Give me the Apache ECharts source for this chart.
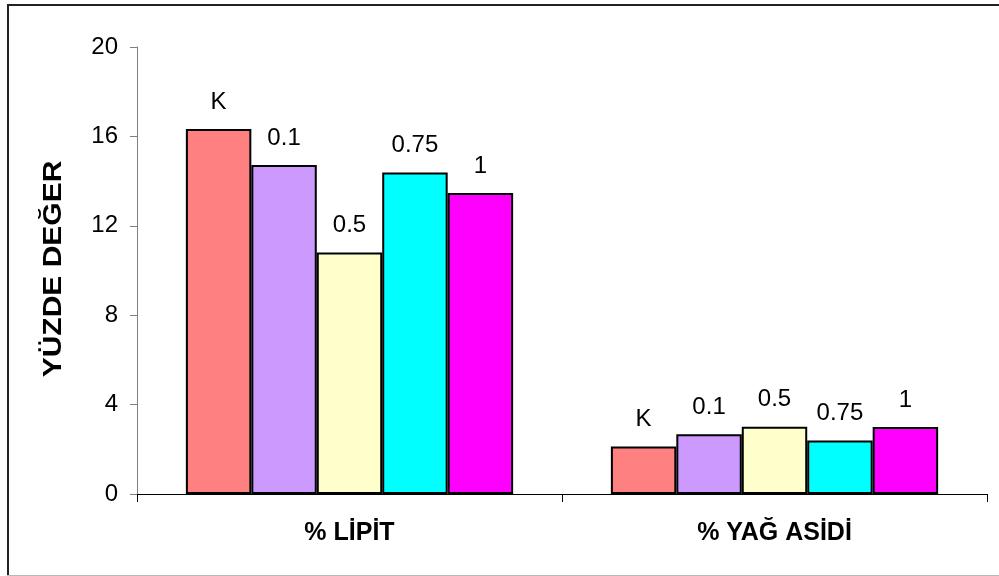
<!DOCTYPE html>
<html>
<head>
<meta charset="utf-8">
<script src="https://cdn.jsdelivr.net/npm/echarts@6/dist/echarts.min.js"></script>
<style>
  html, body { margin: 0; padding: 0; background: #fff; }
  #chart { width: 999px; height: 576px; }
</style>
</head>
<body>
<div id="chart"></div>
<script>
// Category groups on the x axis
const categories = ['% LİPİT', '% YAĞ ASİDİ'];

// Treatment series (series name is drawn as the bar label)
const seriesNames = ['K', '0.1', '0.5', '0.75', '1'];
const valuesK    = [16.33, 2.12];
const values01   = [14.72, 2.67];
const values05   = [10.8, 3.01];
const values075  = [14.39, 2.39];
const values1    = [13.47, 3.0];

const seriesColors = ['#FF8080', '#CC99FF', '#FFFFCC', '#00FFFF', '#FF00FF'];
const allValues = [valuesK, values01, values05, values075, values1];

const yAxisTitle = 'YÜZDE DEĞER';

const chart = echarts.init(document.getElementById('chart'), null, { renderer: 'canvas' });

const font = 'Liberation Sans, Arial, sans-serif';

const series = seriesNames.map((name, i) => ({
  name: name,
  type: 'bar',
  data: allValues[i],
  barGap: 0,
  barCategoryGap: '23%',
  itemStyle: { color: seriesColors[i], borderColor: '#000', borderWidth: 2 },
  label: {
    show: true,
    position: 'top',
    distance: 15,
    formatter: name,
    color: '#000',
    fontFamily: font,
    fontSize: 24
  },
  emphasis: { disabled: true }
}));

chart.setOption({
  animation: false,
  backgroundColor: '#fff',
  grid: { left: 137, right: 12, top: 47, bottom: 82, containLabel: false },
  xAxis: {
    type: 'category',
    data: categories,
    axisLine: { lineStyle: { color: '#000', width: 1 } },
    axisTick: { show: true, length: 8, alignWithLabel: false, lineStyle: { color: '#000' } },
    axisLabel: {
      color: '#000',
      fontFamily: font,
      fontSize: 25,
      fontWeight: 'bold',
      margin: 27
    },
    splitLine: { show: false }
  },
  yAxis: {
    type: 'value',
    min: 0,
    max: 20,
    interval: 4,
    axisLine: { show: true, lineStyle: { color: '#808080', width: 1 } },
    axisTick: { show: true, length: 7, lineStyle: { color: '#808080' } },
    axisLabel: { color: '#000', fontFamily: font, fontSize: 24, margin: 19 },
    splitLine: { show: false }
  },
  graphic: [
    // chart frame: top and left edges dark, bottom edge light
    { type: 'line', shape: { x1: 7, y1: 5, x2: 999, y2: 5 }, style: { stroke: '#222', lineWidth: 2 }, silent: true },
    { type: 'line', shape: { x1: 8, y1: 4, x2: 8, y2: 576 }, style: { stroke: '#222', lineWidth: 2 }, silent: true },
    { type: 'line', shape: { x1: 7, y1: 575.5, x2: 999, y2: 575.5 }, style: { stroke: '#b8b8b8', lineWidth: 1 }, silent: true },
    // y axis title, rotated
    {
      type: 'text',
      x: 54,
      y: 269,
      rotation: Math.PI / 2,
      scaleX: 1.2,
      style: {
        text: yAxisTitle,
        fill: '#000',
        font: 'bold 25px ' + font,
        align: 'center',
        verticalAlign: 'middle'
      },
      silent: true
    }
  ],
  series: series
});
</script>
</body>
</html>
